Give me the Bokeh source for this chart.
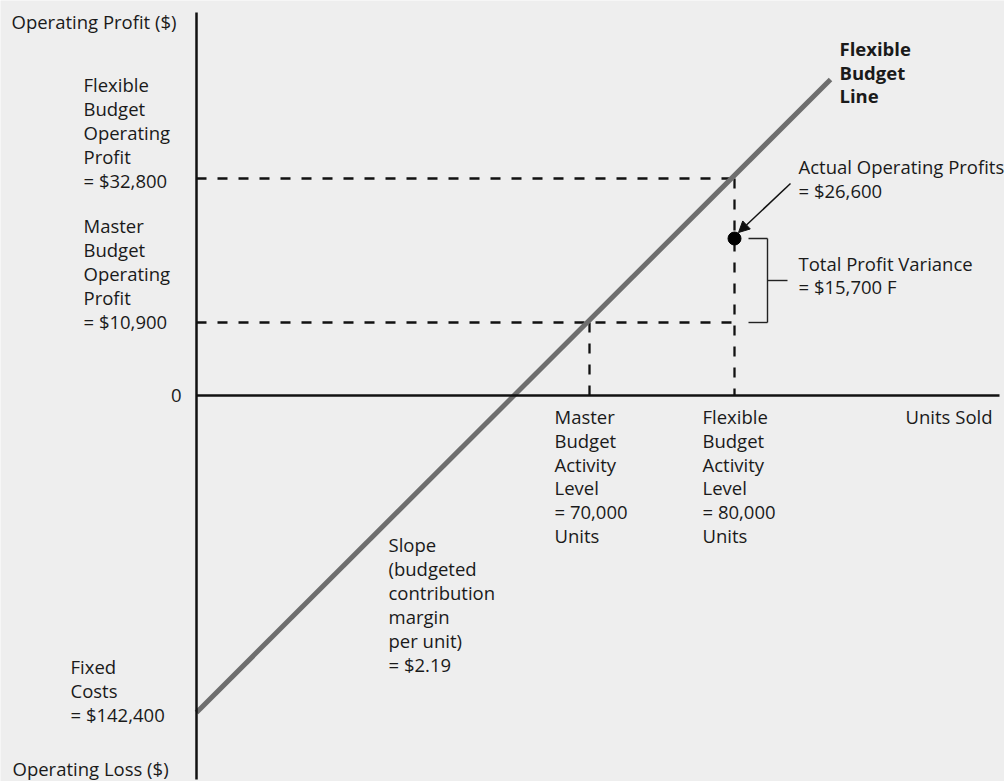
from bokeh.plotting import figure
from bokeh.models import Range1d, Arrow, NormalHead
from bokeh.core.properties import value
from bokeh.embed import file_html
from bokeh.resources import INLINE

# ---- values quoted on the diagram ----
master_units = 70000
flexible_units = 80000
master_profit = 10900
flexible_profit = 32800
actual_profit = 26600
fixed_costs = 142400
cm_per_unit = 2.19
profit_variance = 15700

# ---- schematic coordinates (it is not drawn to scale) ----
# x: units sold (schematic), y: operating profit (schematic); origin at the axes crossing
line_x = [0, 634]            # flexible budget line
line_y = [-317, 316]
activity_x = [393, 538]      # master, flexible activity level
budget_y = [73, 217]         # master, flexible budget operating profit
actual_y = [157]             # actual operating profit

FONT = "Open Sans"
FS = "18.5px"
TC = "#1a1a1a"
BG = "#eeeeee"
TXT_DY = 7   # text baseline correction

p = figure(width=1004, height=781, output_backend="svg", toolbar_location=None,
           x_range=Range1d(-196, 808), y_range=Range1d(-386, 395),
           x_axis_type=None, y_axis_type=None, min_border=0,
           background_fill_color=BG, border_fill_color=BG, outline_line_color=None)
p.grid.visible = False

# dashed guide lines
mx, fx = activity_x
my, fy = budget_y
p.segment(x0=[0, 0, fx, mx], y0=[fy, my, fy, my],
          x1=[fx, fx, fx, mx], y1=[fy, my, 0, 0],
          line_color="#111111", line_width=2.3, line_dash="10 11")

# flexible budget line
p.line(x=line_x, y=line_y, line_color="#6e6e6e", line_width=5)

# axes
p.segment(x0=[0, 0], y0=[-384, 0], x1=[0, 803], y1=[383, 0],
          line_color="#111111", line_width=2.5)

# actual point
p.scatter(x=[fx], y=actual_y, size=13, color="#000000")

# arrow to actual point
p.add_layout(Arrow(end=NormalHead(size=11, fill_color="#111111", line_color="#111111"),
                   x_start=fx + 56, y_start=actual_y[0] + 55,
                   x_end=fx + 4, y_end=actual_y[0] + 6,
                   line_color="#111111", line_width=1.5))

# bracket for total profit variance
bx0, bx1, bx2 = fx + 14, fx + 33, fx + 53
mid = (actual_y[0] + my) / 2
p.segment(x0=[bx0, bx1, bx0, bx1], y0=[actual_y[0], actual_y[0], my, mid],
          x1=[bx1, bx1, bx1, bx2], y1=[actual_y[0], my, my, mid],
          line_color="#222222", line_width=1.4)


def block(x, y0, lines, step=24, align="left", bold=False):
    ys = [y0 + TXT_DY - i * step for i in range(len(lines))]
    p.text(x=[x] * len(lines), y=ys, text=lines, text_font=value(FONT),
           text_font_size=FS, text_align=align, text_baseline="alphabetic",
           text_color=TC, text_font_style="bold" if bold else "normal")


block(-185, 367, ["Operating Profit ($)"])
block(-113, 304, ["Flexible", "Budget", "Operating", "Profit", f"= ${flexible_profit:,}"])
block(-113, 163, ["Master", "Budget", "Operating", "Profit", f"= ${master_profit:,}"])
block(-15, -7, ["0"], align="right")
block(-126, -278, ["Fixed", "Costs", f"= ${fixed_costs:,}"])
block(-184, -380, ["Operating Loss ($)"])
block(643, 340, ["Flexible", "Budget", "Line"], step=23.5, bold=True)
block(602, 222, ["Actual Operating Profits", f"= ${actual_profit:,}"])
block(602, 125, ["Total Profit Variance", f"= ${profit_variance:,} F"], step=23)
block(358, -28, ["Master", "Budget", "Activity", "Level", f"= {master_units:,}", "Units"], step=23.8)
block(506, -28, ["Flexible", "Budget", "Activity", "Level", f"= {flexible_units:,}", "Units"], step=23.8)
block(796, -28, ["Units Sold"], align="right")
block(192, -156, ["Slope", "(budgeted", "contribution", "margin", "per unit)", f"= ${cm_per_unit:.2f}"])

html = file_html(p, INLINE)
html = html.replace("<body>", f'<body style="margin:0;background-color:{BG};">', 1)
open("out.html", "w").write(html)
